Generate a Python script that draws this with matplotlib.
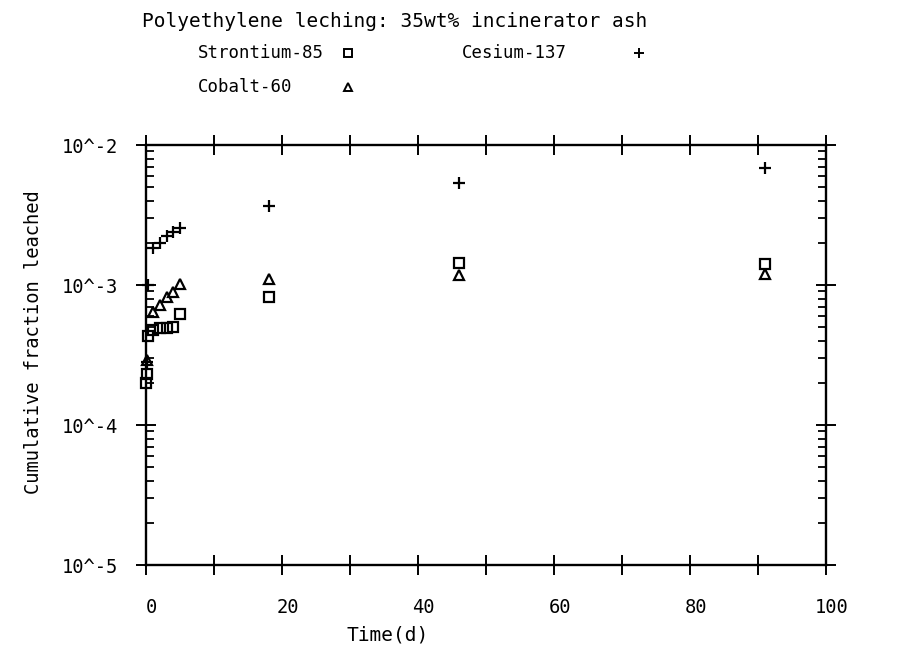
import matplotlib
matplotlib.use("Agg")
import matplotlib.pyplot as plt
import matplotlib.transforms as mtransforms
from matplotlib.lines import Line2D
from matplotlib.ticker import LogLocator, FixedLocator, NullFormatter

# ── data ─────────────────────────────────────────────────────────────────
sr_days = [0.05, 0.1, 0.3, 1, 2, 3, 4, 5, 18, 46, 91]
sr_frac = [2.0e-4, 2.3e-4, 4.3e-4, 4.8e-4, 4.9e-4, 4.9e-4, 5.0e-4, 6.2e-4,
           8.2e-4, 1.44e-3, 1.42e-3]

cs_days = [0.1, 0.3, 1, 2, 3, 4, 5, 18, 46, 91]
cs_frac = [2.8e-4, 1.0e-3, 1.84e-3, 2.0e-3, 2.24e-3, 2.4e-3, 2.55e-3,
           3.66e-3, 5.35e-3, 6.85e-3]

co_days = [0.1, 1, 2, 3, 4, 5, 18, 46, 91]
co_frac = [2.9e-4, 6.4e-4, 7.2e-4, 8.2e-4, 8.9e-4, 1.02e-3, 1.1e-3,
           1.17e-3, 1.2e-3]

x_ticks = [0, 20, 40, 60, 80, 100]
y_ticks = [1e-5, 1e-4, 1e-3, 1e-2]
y_labels = ["10^-5", "10^-4", "10^-3", "10^-2"]

plt.rcParams["font.family"] = ["DejaVu Sans Mono", "DejaVu Sans"]

fig = plt.figure(figsize=(9.02, 6.49), dpi=100)
ax = fig.add_axes([0.162, 0.1294, 0.754, 0.6471])

mk = dict(linestyle="none", color="black", markerfacecolor="none",
          markeredgewidth=1.6, clip_on=False)
ax.plot(sr_days, sr_frac, marker="s", markersize=6.5, **mk)
ax.plot(co_days, co_frac, marker="^", markersize=7, **mk)
ax.plot(cs_days, cs_frac, marker="+", markersize=8, **mk)

ax.set_yscale("log")
ax.set_xlim(0, 100)
ax.set_ylim(1e-5, 1e-2)

for s in ax.spines.values():
    s.set_linewidth(1.7)

# x: crossing ticks every 10, labels every 20
ax.xaxis.set_major_locator(FixedLocator(range(0, 101, 10)))
ax.set_xticklabels([str(v) if v in x_ticks else "" for v in range(0, 101, 10)],
                   fontsize=13.5)
ax.tick_params(axis="x", which="major", direction="inout", length=15,
               width=1.4, pad=16, top=True, bottom=True)
shift = mtransforms.ScaledTranslation(4 / 72, 0, fig.dpi_scale_trans)
for lab in ax.get_xticklabels():
    lab.set_transform(lab.get_transform() + shift)

# y: crossing decade ticks, short inside minor ticks
ax.yaxis.set_major_locator(FixedLocator(y_ticks))
ax.set_yticklabels(y_labels, fontsize=13.5)
ax.yaxis.set_minor_locator(LogLocator(base=10, subs=range(2, 10)))
ax.yaxis.set_minor_formatter(NullFormatter())
ax.tick_params(axis="y", which="major", direction="inout", length=15,
               width=1.4, pad=13, left=True, right=True)
ax.tick_params(axis="y", which="minor", direction="in", length=6,
               width=1.3, left=True, right=True)

fig.text(0.430, 0.022, "Time(d)", ha="center", va="center", fontsize=14)
fig.text(0.037, 0.473, "Cumulative fraction leached", rotation=90,
         ha="center", va="center", fontsize=13.5)

# title + hand-drawn style legend
fig.text(0.157, 0.967, "Polyethylene leching: 35wt% incinerator ash",
         ha="left", va="center", fontsize=14)

legend_rows = [
    ("Strontium-85", "s", 0.219, 0.386, 0.918),
    ("Cesium-137", "+", 0.512, 0.708, 0.918),
    ("Cobalt-60", "^", 0.219, 0.386, 0.866),
]
for name, m, tx, mx, ty in legend_rows:
    fig.text(tx, ty, name, ha="left", va="center", fontsize=12.5)
    fig.add_artist(Line2D([mx], [ty], marker=m, color="black",
                          markerfacecolor="none", markeredgewidth=1.4,
                          markersize=6 if m != "+" else 7,
                          transform=fig.transFigure))

fig.savefig("out.png", dpi=100)
